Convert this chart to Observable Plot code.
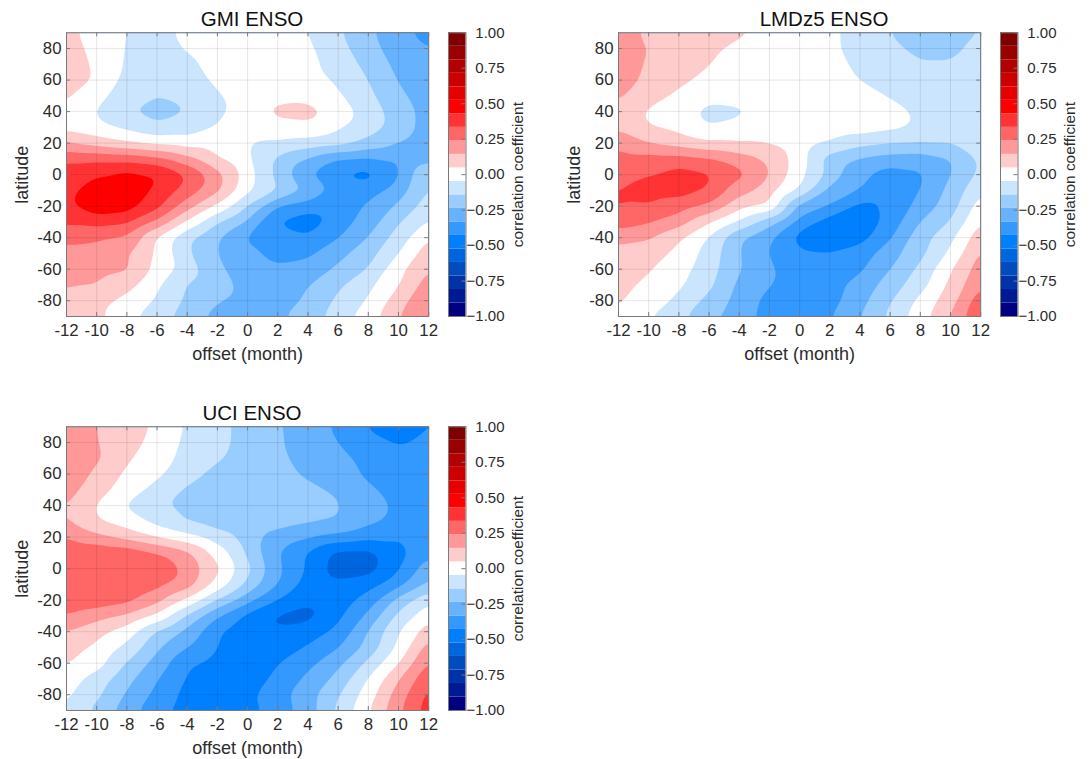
<!DOCTYPE html>
<html>
<head>
<meta charset="utf-8">
<script src="https://cdn.jsdelivr.net/npm/d3@7"></script>
<script src="https://cdn.jsdelivr.net/npm/@observablehq/plot@0.6"></script>
<style>
html,body{margin:0;padding:0;background:#fff;}
#root{position:relative;width:1091px;height:759px;overflow:hidden;font-family:"Liberation Sans",Arial,sans-serif;}
.ttl{position:absolute;font-size:20.5px;color:#111;transform:translateX(-50%);white-space:nowrap;line-height:22px;}
</style>
</head>
<body>
<div id="root"></div>
<script>
// columns: offset (month); rows: latitude from north to south
const offsets = [-12,-10,-8,-6,-4,-2,0,2,4,6,8,10,12];
const latitudes = [90,80,70,60,50,40,30,20,10,0,-10,-20,-30,-40,-50,-60,-70,-80,-90];
const xTicks = [-12,-10,-8,-6,-4,-2,0,2,4,6,8,10,12];
const yTicks = [-80,-60,-40,-20,0,20,40,60,80];
const barTicks = [-1,-0.75,-0.5,-0.25,0,0.25,0.5,0.75,1];

const barColors = [
 "#000080","#001a94","#0033aa","#004cbf","#0066e0","#0080ff","#3399ff","#66b2ff","#99ccff","#cce5ff",
 "#ffffff",
 "#ffcccc","#ff9999","#ff6666","#ff3333","#ff0000","#e60000","#cc0000","#b30000","#990000","#800000"
];

const gmi = [
[.08,0,-.05,-.085,-.02,0,0,0,-.048,-.13,-.22,-.30,-.38],
[.09,.02,-.055,-.095,-.04,0,.01,0,-.03,-.11,-.2,-.29,-.33],
[.1,.03,-.06,-.1,-.07,-.01,.01,.01,-.02,-.09,-.17,-.265,-.3],
[.09,.04,-.08,-.12,-.09,-.03,0,.01,-.01,-.06,-.143,-.245,-.29],
[.06,-.02,-.09,-.14,-.12,-.055,-.01,.02,.01,-.035,-.12,-.22,-.28],
[.035,-.055,-.14,-.18,-.145,-.07,0,.07,.09,.01,-.09,-.19,-.27],
[.01,-.02,-.07,-.125,-.10,-.04,-.01,.02,.02,-.035,-.10,-.18,-.28],
[.15,.10,.055,.02,0,0,-.04,-.06,-.08,-.10,-.17,-.24,-.30],
[.32,.32,.31,.27,.17,.05,-.03,-.16,-.25,-.34,-.35,-.335,-.28],
[.38,.42,.46,.44,.34,.18,0,-.17,-.33,-.43,-.47,-.35,-.13],
[.40,.48,.49,.42,.30,.17,-.02,-.13,-.24,-.37,-.37,-.29,-.135],
[.41,.5,.48,.37,.19,.03,-.15,-.34,-.38,-.38,-.32,-.22,-.10],
[.35,.37,.35,.22,.03,-.14,-.25,-.44,-.49,-.38,-.29,-.15,-.04],
[.27,.25,.22,.03,-.13,-.235,-.35,-.38,-.41,-.34,-.235,-.10,.05],
[.2,.2,.15,.03,-.13,-.24,-.31,-.36,-.35,-.27,-.18,-.05,.10],
[.19,.17,.16,.02,-.09,-.22,-.29,-.32,-.30,-.22,-.14,.02,.145],
[.15,.143,.08,-.035,-.15,-.21,-.26,-.27,-.24,-.16,-.07,.04,.19],
[.12,.08,.02,-.06,-.16,-.23,-.26,-.25,-.235,-.12,-.04,.10,.23],
[.10,.07,-.02,-.10,-.19,-.27,-.27,-.25,-.2,-.09,0,.14,.26]
];

const lmdz = [
[.2,.12,.1,.08,.06,.03,0,-.03,-.08,-.145,-.18,-.18,-.14],
[.2,.14,.1,.06,.03,.02,0,-.03,-.08,-.125,-.165,-.165,-.115],
[.2,.13,.08,.05,.02,.01,0,-.02,-.065,-.09,-.135,-.135,-.09],
[.19,.12,.065,.03,.01,0,0,-.01,-.05,-.07,-.10,-.11,-.09],
[.155,.09,.03,-.015,-.01,0,0,0,-.02,-.055,-.08,-.09,-.09],
[.12,.03,-.01,-.08,-.065,0,.01,.01,0,-.02,-.06,-.08,-.08],
[.12,.05,.02,-.045,-.02,0,0,0,0,-.02,-.06,-.08,-.08],
[.22,.143,.10,.06,.05,.04,0,-.05,-.11,-.14,-.145,-.14,-.09],
[.27,.28,.28,.25,.19,.12,0,-.19,-.25,-.28,-.29,-.25,-.125],
[.31,.33,.375,.35,.27,.15,-.02,-.17,-.31,-.38,-.35,-.245,-.12],
[.335,.37,.38,.33,.18,.09,-.05,-.27,-.33,-.4,-.335,-.21,-.055],
[.34,.33,.28,.22,.08,.04,-.27,-.335,-.46,-.40,-.30,-.19,0],
[.29,.25,.19,.06,-.06,-.2,-.37,-.48,-.50,-.39,-.235,-.14,.05],
[.17,.15,.06,-.06,-.23,-.325,-.47,-.51,-.47,-.345,-.18,-.07,.11],
[.11,.09,.02,-.09,-.235,-.34,-.41,-.42,-.38,-.28,-.17,-.03,.16],
[.08,.055,-.01,-.10,-.23,-.32,-.38,-.38,-.35,-.24,-.12,.04,.19],
[.07,.035,-.03,-.12,-.26,-.33,-.37,-.36,-.30,-.19,-.09,.07,.23],
[.06,.01,-.07,-.17,-.28,-.36,-.38,-.37,-.27,-.15,-.02,.10,.3],
[.035,-.045,-.12,-.22,-.29,-.37,-.38,-.34,-.24,-.12,.01,.15,.33]
];

const uci = [
[.22,.14,.10,.03,-.06,-.12,-.17,-.23,-.29,-.35,-.44,-.50,-.43],
[.22,.145,.08,.02,-.07,-.12,-.17,-.23,-.27,-.335,-.39,-.44,-.39],
[.22,.16,.06,0,-.08,-.13,-.18,-.22,-.27,-.31,-.36,-.38,-.38],
[.21,.125,.03,-.03,-.10,-.17,-.2,-.215,-.25,-.29,-.35,-.37,-.38],
[.18,.09,0,-.08,-.16,-.20,-.21,-.21,-.22,-.25,-.32,-.36,-.37],
[.145,.04,-.06,-.13,-.17,-.2,-.21,-.2,-.21,-.23,-.29,-.35,-.37],
[.15,.055,0,-.08,-.15,-.19,-.20,-.2,-.22,-.24,-.31,-.36,-.37],
[.24,.17,.11,.04,-.02,-.10,-.19,-.27,-.32,-.36,-.40,-.42,-.41],
[.31,.32,.31,.25,.17,.01,-.16,-.33,-.44,-.56,-.56,-.47,-.36],
[.32,.32,.32,.31,.215,.07,-.115,-.31,-.44,-.57,-.57,-.44,-.28],
[.33,.33,.31,.27,.20,.02,-.16,-.33,-.47,-.50,-.46,-.37,-.22],
[.31,.30,.27,.18,.03,-.15,-.30,-.43,-.50,-.47,-.39,-.2,-.07],
[.235,.18,.13,.03,-.16,-.33,-.46,-.54,-.56,-.45,-.31,-.12,.02],
[.14,.08,0,-.16,-.27,-.42,-.5,-.51,-.47,-.41,-.23,-.048,.10],
[.08,.03,-.07,-.22,-.33,-.43,-.5,-.48,-.42,-.34,-.21,-.03,.19],
[.06,0,-.15,-.28,-.42,-.46,-.49,-.43,-.36,-.26,-.12,.04,.25],
[0,-.09,-.21,-.33,-.44,-.47,-.47,-.41,-.31,-.21,-.04,.14,.31],
[-.03,-.12,-.25,-.36,-.46,-.46,-.45,-.37,-.27,-.15,0,.19,.36],
[-.05,-.17,-.29,-.40,-.47,-.46,-.46,-.39,-.28,-.12,.04,.22,.38]
];

const panels = [
 {title:"GMI ENSO", rows:gmi, left:0, top:0, titleX:252},
 {title:"LMDz5 ENSO", rows:lmdz, left:551.7, top:0, titleX:272.3},
 {title:"UCI ENSO", rows:uci, left:0, top:394, titleX:252}
];

const edges = d3.range(20).map(i => (i - 9.5) * 2 / 21);
const barLow = barColors.map((c,i) => i === 0 ? -1 : edges[i-1]);
const barHigh = barColors.map((c,i) => i === 20 ? 1 : edges[i]);
const font = '"Liberation Sans",Arial,sans-serif';
const axisGrey = "#7a7a7a", ink = "#2b2b2b";
const root = document.getElementById("root");
const frameLeft = 66, frameRight = 428.2;

for (const p of panels) {
  const H = 283.7;
  const W = frameRight - frameLeft;
  const points = p.rows.flatMap((row, r) => row.map((v, c) => ({offset:offsets[c], lat:latitudes[r], v})));
  const main = Plot.plot({
    width: frameRight + 12, height: 370,
    marginLeft: frameLeft, marginRight: 12, marginTop: 32.3, marginBottom: 54,
    x: {domain:[-12,12], axis:null},
    y: {domain:[-90,90], axis:null},
    color: {type:"threshold", domain: edges, range: barColors},
    style: {position:"absolute", left:p.left+"px", top:p.top+"px", fontFamily:font, color:ink, background:"transparent", overflow:"visible"},
    marks: [
      Plot.contour(points, {
        x:"offset", y:"lat", fill:"v",
        interpolate:"barycentric", pixelSize:1, blur:5,
        thresholds: edges, smooth:true, clip:true
      }),
      Plot.gridX(xTicks, {stroke:"#000", strokeOpacity:0.1}),
      Plot.gridY(yTicks, {stroke:"#000", strokeOpacity:0.1}),
      Plot.tickX(xTicks, {x:d=>d, insetTop:H-4, stroke:axisGrey}),
      Plot.tickX(xTicks, {x:d=>d, insetBottom:H-4, stroke:axisGrey}),
      Plot.tickY(yTicks, {y:d=>d, insetRight:W-4, stroke:axisGrey}),
      Plot.tickY(yTicks, {y:d=>d, insetLeft:W-4, stroke:axisGrey}),
      Plot.frame({stroke:axisGrey}),
      Plot.axisX(xTicks, {tickSize:0, tickPadding:8, fontSize:16.8, tickFormat:d=>String(d), label:null}),
      Plot.axisY(yTicks, {tickSize:0, tickPadding:5, fontSize:16.8, tickFormat:d=>String(d), label:null}),
      Plot.text(["offset (month)"], {frameAnchor:"bottom", dy:44, fontSize:18, lineAnchor:"bottom"}),
      Plot.text(["latitude"], {frameAnchor:"left", dx:-44, rotate:-90, fontSize:18, textAnchor:"middle"})
    ]
  });
  root.appendChild(main);

  const bar = Plot.plot({
    width: 100, height: 370,
    marginLeft: 0, marginRight: 82.5, marginTop: 32.3, marginBottom: 54,
    x: {domain:[0,1], axis:null},
    y: {domain:[-1,1], axis:null},
    color: {type:"identity"},
    style: {position:"absolute", left:(p.left+447.8)+"px", top:p.top+"px", fontFamily:font, color:ink, background:"transparent", overflow:"visible"},
    marks: [
      Plot.rect(barColors, {x1:()=>0, x2:()=>1, y1:(d,i)=>barLow[i], y2:(d,i)=>barHigh[i], fill:d=>d}),
      Plot.tickY(barTicks, {y:d=>d, insetLeft:13.5, stroke:axisGrey}),
      Plot.frame({stroke:axisGrey}),
      Plot.axisY(barTicks, {anchor:"right", textAnchor:"end", tickSize:0, tickPadding:38.5, fontSize:15, tickFormat:d=>d3.format(".2f")(d), label:null}),
      Plot.text(["correlation coefficient"], {frameAnchor:"right", dx:52.5, rotate:-90, fontSize:15.4, textAnchor:"middle"})
    ]
  });
  root.appendChild(bar);

  const t = document.createElement("div");
  t.className = "ttl";
  t.textContent = p.title;
  t.style.left = (p.left + p.titleX) + "px";
  t.style.top = (p.top + 8) + "px";
  root.appendChild(t);
}
</script>
</body>
</html>
